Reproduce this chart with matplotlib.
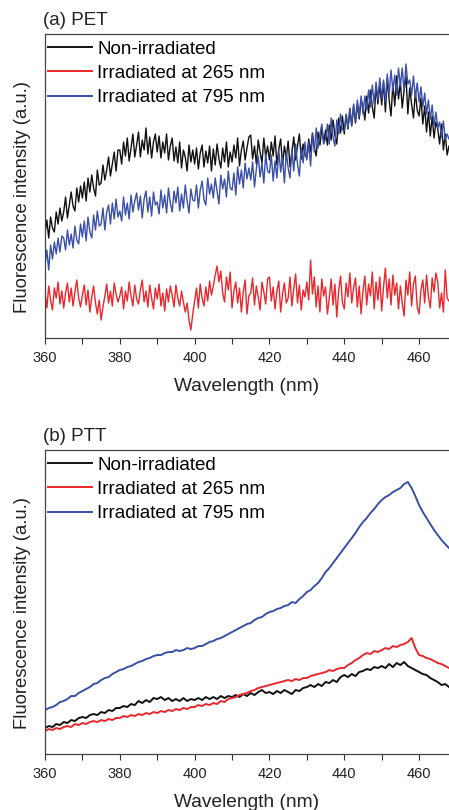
import numpy as np
import matplotlib
matplotlib.use("Agg")
import matplotlib.pyplot as plt
from matplotlib.ticker import MultipleLocator

# wavelength grids (nm): PET read every 0.5 nm, PTT every 1 nm
wl_pet = np.arange(360, 468.5, 0.5)
wl_ptt = np.arange(360, 469, 1)

# (a) PET  - intensities in arbitrary units
pet_non = [104, 118, 100, 121, 110, 106, 126, 114, 130, 117,
           126, 141, 120, 133, 146, 132, 127, 150, 136, 152,
           140, 156, 137, 160, 146, 163, 150, 142, 168, 153,
           155, 173, 158, 168, 181, 162, 174, 186, 167, 188,
           188, 174, 196, 182, 200, 177, 190, 204, 181, 193,
           206, 181, 198, 188, 210, 184, 201, 180, 196, 204,
           186, 202, 180, 196, 185, 204, 178, 192, 200, 177,
           191, 175, 196, 170, 188, 181, 167, 193, 176, 188,
           174, 190, 169, 185, 193, 171, 187, 175, 192, 167,
           189, 173, 194, 179, 170, 190, 176, 196, 171, 186,
           176, 193, 180, 200, 172, 188, 197, 178, 190, 201,
           203, 179, 192, 174, 198, 186, 175, 200, 181, 192,
           178, 196, 182, 202, 173, 189, 199, 173, 192, 180,
           197, 171, 186, 201, 178, 192, 204, 179, 194, 183,
           180, 199, 186, 205, 190, 182, 206, 193, 210, 195,
           208, 193, 213, 198, 218, 203, 194, 220, 205, 222,
           204, 223, 209, 229, 212, 232, 215, 234, 219, 238,
           232, 218, 242, 225, 248, 231, 220, 252, 234, 254,
           233, 256, 226, 260, 238, 222, 255, 232, 262, 239,
           256, 230, 248, 262, 224, 250, 234, 220, 246, 228,
           222, 240, 214, 232, 206, 226, 202, 222, 200, 216,
           209, 194, 214, 188, 204, 183, 192]
pet_265 = [46, 30, 52, 38, 28, 50, 40, 56, 34, 47,
           30, 45, 55, 36, 50, 32, 46, 58, 40, 31,
           43, 53, 33, 48, 26, 41, 52, 35, 24, 38,
           18, 31, 42, 54, 35, 47, 32, 55, 44, 36,
           42, 51, 29, 47, 37, 56, 42, 32, 53, 39,
           34, 48, 58, 36, 47, 31, 53, 40, 29, 50,
           39, 54, 32, 45, 27, 49, 36, 52, 43, 31,
           53, 40, 32, 47, 36, 26, 35, 18, 8, 24,
           37, 50, 30, 54, 40, 32, 51, 37, 57, 43,
           52, 63, 72, 56, 67, 45, 36, 61, 48, 66,
           30, 47, 56, 35, 50, 26, 46, 58, 24, 42,
           45, 60, 33, 52, 41, 28, 56, 46, 34, 59,
           61, 37, 51, 29, 47, 57, 26, 44, 55, 35,
           40, 61, 32, 49, 64, 35, 53, 28, 48, 41,
           56, 38, 78, 44, 61, 31, 52, 26, 59, 42,
           51, 24, 40, 59, 33, 54, 21, 47, 62, 36,
           29, 55, 41, 65, 35, 50, 60, 31, 52, 24,
           47, 62, 33, 54, 42, 66, 29, 56, 38, 61,
           27, 51, 70, 40, 59, 33, 63, 43, 55, 29,
           52, 35, 22, 58, 43, 66, 32, 54, 62, 31,
           24, 48, 58, 35, 63, 41, 30, 60, 46, 65,
           56, 30, 45, 26, 68, 40, 37]
pet_795 = [72, 88, 68, 93, 79, 96, 84, 100, 86, 102,
           100, 88, 108, 93, 104, 90, 112, 98, 94, 114,
           101, 117, 97, 121, 106, 100, 123, 108, 127, 112,
           114, 130, 108, 126, 133, 114, 135, 119, 139, 121,
           127, 117, 141, 123, 135, 119, 143, 126, 137, 145,
           128, 142, 120, 139, 147, 126, 141, 122, 146, 133,
           136, 124, 148, 130, 143, 125, 150, 135, 126, 147,
           135, 151, 127, 144, 130, 153, 137, 125, 149, 138,
           137, 153, 130, 148, 157, 138, 133, 160, 144, 154,
           140, 160, 147, 134, 163, 149, 159, 141, 167, 150,
           148, 165, 143, 171, 154, 168, 150, 175, 159, 170,
           158, 176, 151, 169, 182, 161, 175, 155, 184, 167,
           165, 183, 157, 177, 160, 188, 166, 181, 155, 186,
           170, 160, 189, 167, 194, 174, 162, 190, 175, 196,
           178, 196, 172, 204, 186, 210, 190, 204, 214, 194,
           199, 214, 194, 220, 201, 192, 218, 204, 224, 208,
           207, 224, 210, 230, 213, 234, 216, 238, 221, 242,
           224, 242, 228, 248, 231, 253, 234, 256, 238, 260,
           240, 258, 236, 264, 244, 268, 247, 263, 243, 270,
           252, 270, 246, 274, 254, 258, 243, 262, 240, 255,
           236, 251, 231, 245, 224, 238, 219, 233, 212, 226,
           210, 216, 201, 217, 198, 204, 199]

# (b) PTT
ptt_non = [26, 28, 27, 30, 29, 32, 31, 34, 33, 36,
           37, 36, 39, 40, 39, 42, 41, 44, 43, 46,
           46, 48, 47, 50, 49, 53, 51, 54, 52, 56,
           55, 57, 54, 56, 53, 55, 53, 56, 53, 55,
           54, 56, 54, 57, 55, 57, 55, 58, 56, 58,
           57, 59, 57, 60, 58, 61, 59, 62, 64, 61,
           62, 60, 63, 61, 64, 62, 60, 64, 63, 66,
           67, 69, 67, 70, 68, 72, 71, 74, 72, 77,
           79, 77, 80, 78, 82, 83, 85, 84, 87, 86,
           88, 86, 90, 87, 91, 89, 92, 88, 86, 84,
           82, 80, 79, 76, 74, 72, 69, 70, 67]
ptt_265 = [23, 25, 24, 26, 25, 27, 28, 27, 30, 29,
           31, 30, 32, 33, 32, 34, 33, 35, 34, 36,
           36, 38, 37, 39, 38, 40, 39, 41, 40, 42,
           41, 43, 42, 44, 43, 45, 44, 46, 45, 47,
           47, 49, 48, 50, 49, 51, 50, 53, 52, 55,
           56, 57, 59, 60, 61, 63, 64, 66, 67, 68,
           69, 70, 71, 72, 73, 74, 73, 75, 74, 76,
           76, 78, 79, 80, 81, 82, 84, 83, 85, 86,
           86, 89, 91, 94, 96, 99, 101, 100, 103, 102,
           104, 106, 105, 108, 107, 109, 110, 112, 116, 106,
           99, 98, 96, 95, 93, 91, 90, 88, 86]
ptt_795 = [44, 46, 47, 49, 52, 53, 55, 58, 58, 61,
           63, 65, 67, 70, 71, 74, 76, 77, 80, 82,
           84, 85, 87, 88, 90, 92, 93, 95, 96, 98,
           99, 99, 101, 102, 102, 104, 103, 104, 106, 105,
           106, 108, 108, 110, 112, 113, 115, 116, 118, 120,
           122, 124, 126, 128, 130, 131, 134, 136, 137, 140,
           142, 143, 145, 146, 148, 149, 152, 151, 155, 158,
           162, 164, 168, 171, 176, 182, 186, 191, 196, 201,
           206, 211, 216, 221, 227, 232, 236, 241, 245, 250,
           254, 257, 259, 262, 264, 266, 270, 272, 266, 258,
           249, 242, 236, 230, 224, 219, 214, 210, 206]

labels = ["Non-irradiated", "Irradiated at 265 nm", "Irradiated at 795 nm"]
colors = ["#111111", "#e8282c", "#3a4fa6"]

plt.rcParams['font.family'] = ['Liberation Sans', 'DejaVu Sans']

fig = plt.figure(figsize=(4.49, 8.10), dpi=100)
ax_a = fig.add_axes([0.1002, 0.5827, 0.8998, 0.3753])
ax_b = fig.add_axes([0.1002, 0.0691, 0.8998, 0.3753])

panels = [(ax_a, "(a) PET", wl_pet, [pet_non, pet_265, pet_795], 1.0),
          (ax_b, "(b) PTT", wl_ptt, [ptt_non, ptt_265, ptt_795], 1.4)]

for ax, title, x, series, lw in panels:
    for y, lab, c in zip(series, labels, colors):
        ax.plot(x, y, color=c, lw=lw, label=lab)
    ax.set_xlim(360, 468)
    ax.set_ylim(0, 304)
    ax.xaxis.set_major_locator(MultipleLocator(20))
    ax.xaxis.set_minor_locator(MultipleLocator(10))
    ax.tick_params(axis='x', which='both', direction='out', length=4,
                   width=0.8, labelsize=10.5, colors='#333333', pad=5)
    ax.tick_params(axis='x', which='major', labelcolor='#222222')
    ax.set_yticks([])
    ax.spines['right'].set_visible(False)
    for s in ['left', 'top', 'bottom']:
        ax.spines[s].set_color('#444444')
        ax.spines[s].set_linewidth(0.9)
    ax.set_xlabel("Wavelength (nm)", fontsize=13.8, color='#222222', labelpad=9.5)
    ax.set_ylabel("Fluorescence intensity (a.u.)", fontsize=13.3,
                  color='#222222')
    ax.yaxis.set_label_coords(-0.035, 0.463)
    ax.set_title(title, loc='left', fontsize=13.5, color='#222222', pad=6.5,
                 x=-0.005)
    leg = ax.legend(loc='upper left', bbox_to_anchor=(0.0, 0.988), frameon=False,
                    fontsize=13.5, handlelength=2.35, handletextpad=0.27,
                    labelspacing=0.38, borderaxespad=0.0, borderpad=0.16)
    for h in leg.get_lines():
        h.set_linewidth(1.4)

fig.savefig("out.png", dpi=100)
